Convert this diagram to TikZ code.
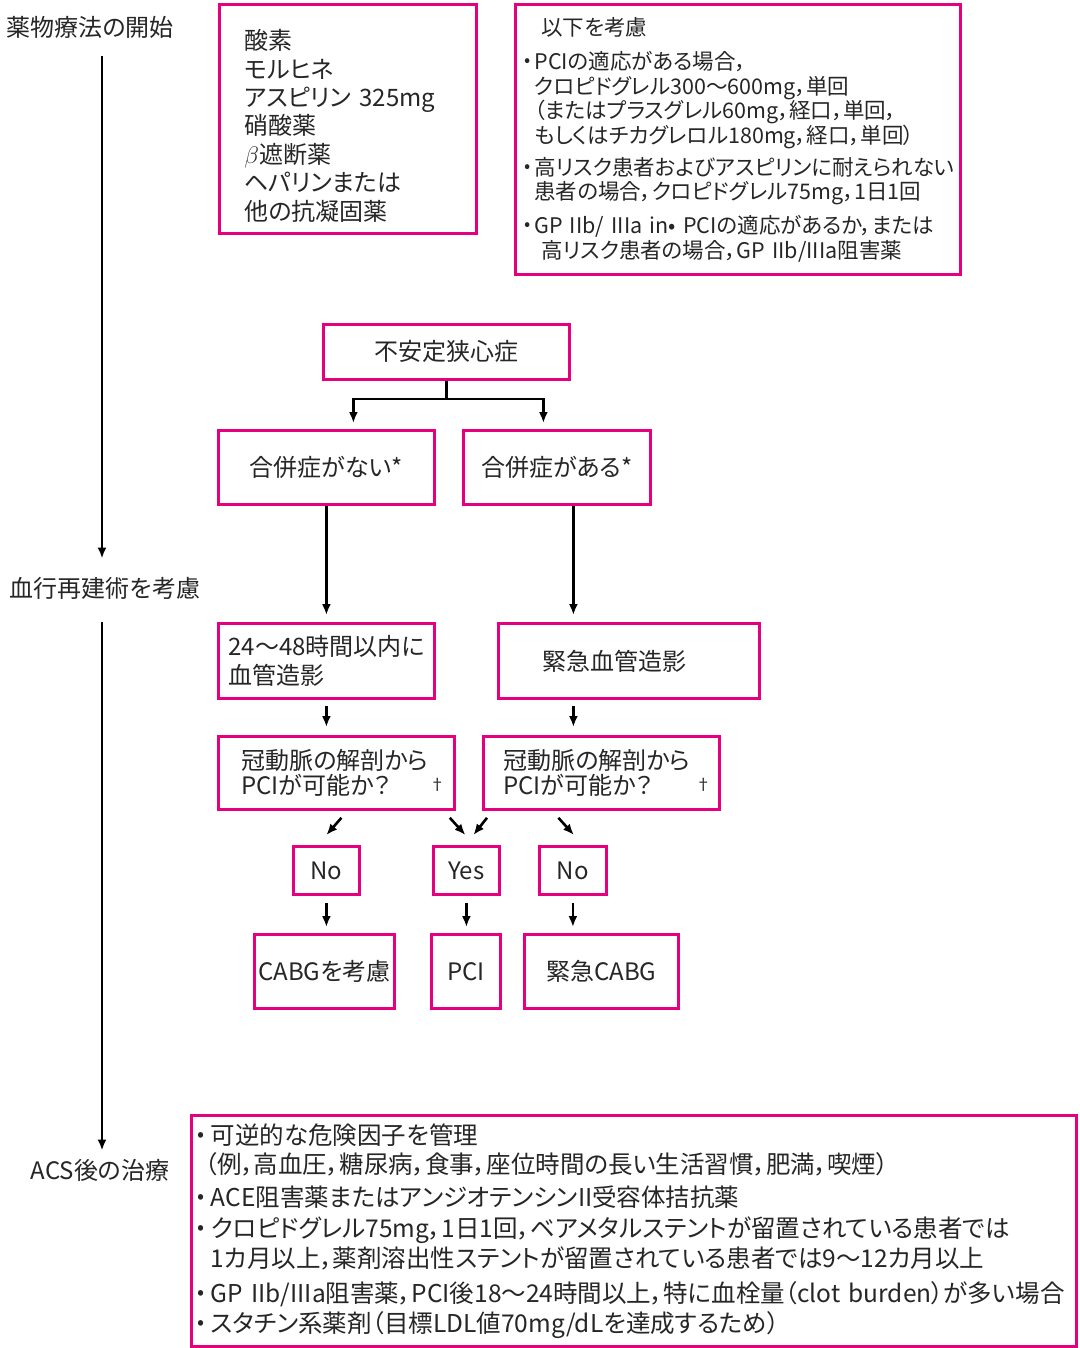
\documentclass[tikz,border=0pt]{standalone}
\usepackage{fontspec}
\setmainfont[RawFeature=+palt]{Noto Sans CJK JP}
\usepackage{graphicx}
\usepackage{tikz}
\usetikzlibrary{arrows.meta,positioning,calc}
\definecolor{rubine}{RGB}{228,0,127}
\newcommand{\bul}[1][6.5pt]{\makebox[#1][l]{\raisebox{0.12em}{\scalebox{0.85}{•}}}}
\newcommand{\dagmark}[1]{\raisebox{2pt}{\fontsize{8pt}{8pt}\selectfont †}\hspace*{#1}}

\begin{document}
\begin{tikzpicture}[x=0.5pt,y=-0.5pt,
  font=\fontsize{12pt}{14.2pt}\selectfont,
  every node/.style={text=black!85},
  box/.style={draw=rubine,line width=1.4pt,anchor=north west,inner sep=0pt,align=center},
  lbl/.style={inner sep=0pt},
  ar/.style={-{Latex[length=5.5pt,width=4.5pt]},line width=1.3pt}]

\useasboundingbox[fill=white] (0,0) rectangle (1080,1348);
\coordinate (ax) at (102,0);

\node[lbl] (start) at (90,27) {薬物療法の開始};
\node[lbl] (reva) at (105,588) {血行再建術を考慮};
\node[lbl] (acs) at (100,1170) {ACS後の治療};

\node[box,minimum width=128.5pt,minimum height=114.5pt,text width=103.5pt,
  align=left,inner xsep=12.5pt] (drugs) at (218,3)
  {\rule{0pt}{17pt}酸素\\モルヒネ\\アスピリン 325mg\\硝酸薬\\$\beta$遮断薬\\ヘパリンまたは\\他の抗凝固薬};
\node[box,minimum width=222.5pt,minimum height=135pt,text width=213.5pt,
  align=left,inner xsep=4.5pt,font=\fontsize{10.75pt}{12.25pt}\selectfont] (cons) at (514,3)
  {\hspace*{8.5pt}以下を考慮\\[5pt]
   \bul[5pt]PCIの適応がある場合，\\
   \hspace*{5pt}クロピドグレル300〜600mg，単回\\
   \hspace*{5pt}（またはプラスグレル60mg，経口，単回，\\
   \hspace*{5pt}もしくはチカグレロル180mg，経口，単回）\\[3.75pt]
   \bul[5pt]高リスク患者およびアスピリンに耐えられない\\
   \hspace*{5pt}患者の場合，クロピドグレル75mg，1日1回\\[4.75pt]
   \bul[5pt]GP IIb/ IIIa in• PCIの適応があるか，または\\
   \hspace*{8.5pt}高リスク患者の場合，GP IIb/IIIa阻害薬};

\node[box,minimum width=123pt,minimum height=27.5pt] (ua) at (322,323) {不安定狭心症};
\node[box,minimum width=108pt,minimum height=37pt] (noc) at (217,429) {合併症がない*};
\node[box,minimum width=93.5pt,minimum height=37pt] (yesc) at (462,429) {合併症がある*};

\node[box,minimum width=108pt,minimum height=37.5pt,text width=98pt,
  align=left,inner xsep=5pt] (ang1) at (217,622) {24〜48時間以内に\\血管造影};
\node[box,minimum width=130.5pt,minimum height=37.5pt,text width=86.5pt,
  align=left,inner xsep=22pt] (ang2) at (497,622) {緊急血管造影};

\node[box,minimum width=118pt,minimum height=36.5pt,text width=95pt,align=left,
  inner xsep=11.5pt,font=\fontsize{12pt}{12.75pt}\selectfont] (pci1) at (217,735)
  {冠動脈の解剖から\\PCIが可能か？\hfill\dagmark{-7pt}};
\node[box,minimum width=118pt,minimum height=36.5pt,text width=98pt,align=left,
  inner xsep=10pt,font=\fontsize{12pt}{12.75pt}\selectfont] (pci2) at (482,735)
  {冠動脈の解剖から\\PCIが可能か？\hfill\dagmark{-6pt}};

\node[box,minimum width=33pt,minimum height=24pt] (no1) at (292,845) {No};
\node[box,minimum width=33pt,minimum height=24pt] (yes) at (432,845) {Yes};
\node[box,minimum width=33.5pt,minimum height=24pt] (no2) at (538,845) {No};

\node[box,minimum width=70pt,minimum height=37pt] (cabg) at (253,933) {CABGを考慮};
\node[box,minimum width=34.5pt,minimum height=37pt] (pci) at (430,933) {PCI};
\node[box,minimum width=77pt,minimum height=37pt] (ecabg) at (523,933) {緊急CABG};

\node[box,minimum width=442.5pt,minimum height=115.5pt,text width=436pt,align=left,
  inner xsep=3.25pt,font=\fontsize{12.25pt}{14.75pt}\selectfont] (after) at (190,1114)
  {\bul 可逆的な危険因子を管理\\
   \hspace*{3.5pt}（例，高血圧，糖尿病，食事，座位時間の長い生活習慣，肥満，喫煙）\\[1.5pt]
   \bul ACE阻害薬またはアンジオテンシンII受容体拮抗薬\\[1pt]
   \bul クロピドグレル75mg，1日1回，ベアメタルステントが留置されている患者では\\
   \hspace*{6.5pt}1カ月以上，薬剤溶出性ステントが留置されている患者では9〜12カ月以上\\[3pt]
   \mbox{\bul GP IIb/IIIa阻害薬，PCI後18〜24時間以上，特に血栓量（clot burden）が多い場合}\\
   \bul スタチン系薬剤（目標LDL値70mg/dLを達成するため）};

\draw[ar,shorten <=9pt,shorten >=9pt] (start.south -| ax) -- (reva.north -| ax);
\draw[ar,shorten <=11.5pt,shorten >=4pt] (reva.south -| ax) -- (acs.north -| ax);

\draw[ar,shorten >=3pt] (ua.south) -- ++(0,18) -| ([xshift=13.5pt]noc.north);
\draw[ar,shorten >=3pt] (ua.south) -- ++(0,18) -| ([xshift=-6.75pt]yesc.north);
\draw[ar,shorten >=3.5pt] (noc) -- (ang1);
\draw[ar,shorten >=3.5pt] ([xshift=8.25pt]yesc.south) -- ([xshift=8.25pt]yesc.south |- ang2.north);
\draw[ar,shorten <=3pt,shorten >=4pt] (ang1.south) -- (ang1.south |- pci1.north);
\draw[ar,shorten <=3pt,shorten >=4pt] ([xshift=-14pt]pci2.north |- ang2.south) -- ([xshift=-14pt]pci2.north);

\draw[ar] ([xshift=2.5pt,yshift=-3.5pt]pci1.south) -- ([yshift=5pt]no1.north);
\draw[ar] ([xshift=-3pt,yshift=-3.5pt]pci1.south east) -- ([xshift=-0.5pt,yshift=5pt]yes.north);
\draw[ar] ([xshift=2.5pt,yshift=-3.5pt]pci2.south west) -- ([xshift=3.5pt,yshift=5pt]yes.north);
\draw[ar] ([xshift=-21.5pt,yshift=-3.5pt]pci2.south) -- ([xshift=0.5pt,yshift=5pt]no2.north);

\foreach \a/\b in {no1/cabg,yes/pci,no2/ecabg}
  \draw[ar,shorten <=3.5pt,shorten >=3pt] (\a.south) -- (\a.south |- \b.north);
\end{tikzpicture}
\end{document}
